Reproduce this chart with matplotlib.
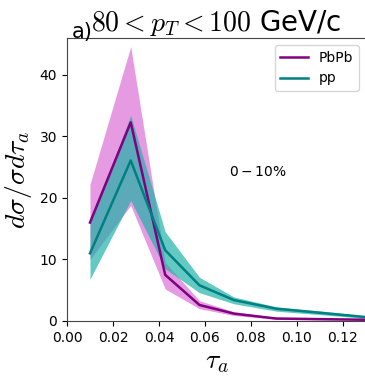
import numpy as np
import matplotlib
matplotlib.use('Agg')
import matplotlib.pyplot as plt

# --- data ---
tau = [0.010, 0.0277, 0.0427, 0.0576, 0.0726, 0.091, 0.111, 0.131]

pbpb = [16.0, 32.3, 7.5, 2.6, 1.2, 0.4, 0.3, 0.2]
pbpb_lo = [10.0, 18.8, 5.2, 2.0, 0.9, 0.25, 0.15, 0.1]
pbpb_hi = [22.2, 44.6, 9.5, 3.3, 1.5, 0.55, 0.45, 0.3]

pp = [11.0, 26.1, 11.5, 5.8, 3.4, 2.0, 1.3, 0.6]
pp_lo = [6.8, 19.6, 8.5, 4.6, 2.8, 1.6, 1.0, 0.4]
pp_hi = [15.9, 33.4, 14.5, 7.1, 3.9, 2.3, 1.6, 0.8]

fig = plt.figure(figsize=(3.65, 3.76), dpi=100)
ax = fig.add_axes([67 / 365, 1 - 321 / 376, 299 / 365, 283 / 376])

ax.fill_between(tau, pbpb_lo, pbpb_hi, color='orchid', alpha=0.7, lw=0)
ax.fill_between(tau, pp_lo, pp_hi, color='lightseagreen', alpha=0.7, lw=0)
ax.plot(tau, pbpb, color='purple', lw=1.8, label='PbPb')
ax.plot(tau, pp, color='teal', lw=1.8, label='pp')

ax.text(0.0706, 24.3, r'$0-10\%$', fontsize=10, va='center')
ax.text(0.002, 45.3, 'a)', fontsize=15, va='bottom')
ax.set_title(r'$80 < p_T < 100$ GeV/c', fontsize=20, pad=3,
             math_fontfamily='cm')

ax.set_xlim(0, 0.13)
ax.set_ylim(0, 46)
ax.set_xticks([0.00, 0.02, 0.04, 0.06, 0.08, 0.10, 0.12])
ax.set_yticks([0, 10, 20, 30, 40])
ax.tick_params(labelsize=10)
ax.set_xlabel(r'$\tau_a$', fontsize=20, math_fontfamily='cm', labelpad=2)
ax.set_ylabel(r'$d\sigma/\sigma d\tau_a$', fontsize=20, math_fontfamily='cm')
ax.legend(loc='upper right', fontsize=10)
for s in ax.spines.values():
    s.set_color('#444444')

fig.savefig('out.png', dpi=100)
